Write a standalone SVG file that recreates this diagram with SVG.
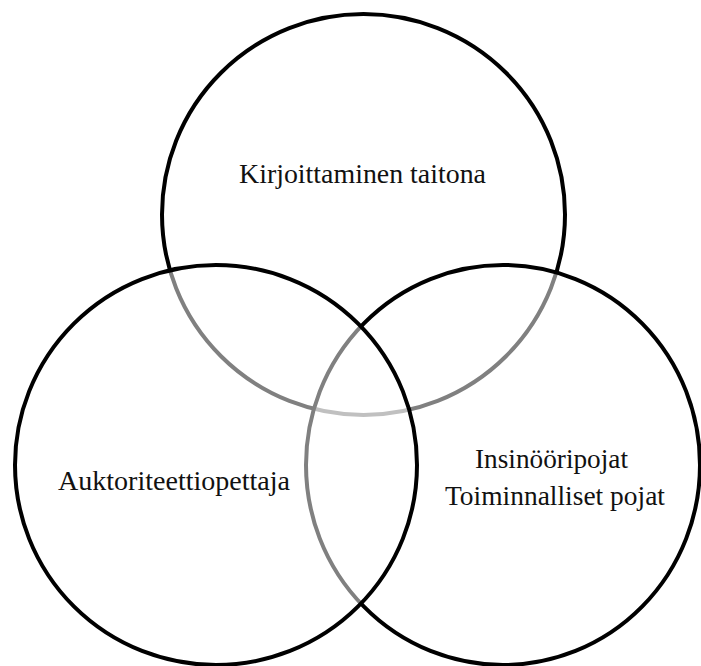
<svg xmlns="http://www.w3.org/2000/svg" width="701" height="666" viewBox="0 0 701 666">
<style>
.c{fill:#ffffff;fill-opacity:0.5;stroke:#000;stroke-width:4}
.t{font-family:"Liberation Serif","Times New Roman","DejaVu Serif",serif;font-size:27.5px;fill:#111}
</style>
<rect width="701" height="666" fill="#fff"/>
<g id="top">
<ellipse class="c" cx="363.5" cy="214.5" rx="201.5" ry="200.5"/>
<text class="t" x="239" y="183" textLength="247" lengthAdjust="spacingAndGlyphs">Kirjoittaminen  taitona</text>
</g>
<g id="right">
<ellipse class="c" cx="503" cy="465" rx="197" ry="200"/>
</g>
<g id="left">
<ellipse class="c" cx="216" cy="465" rx="201" ry="200"/>
<text class="t" x="58" y="490" textLength="232" lengthAdjust="spacingAndGlyphs">Auktoriteettiopettaja</text>
</g>
<g id="right-label">
<text class="t" x="475" y="468" textLength="153" lengthAdjust="spacingAndGlyphs">Insinööripojat</text>
<text class="t" x="445" y="505" textLength="220" lengthAdjust="spacingAndGlyphs">Toiminnalliset pojat</text>
</g>
<g id="connectors"/>
</svg>
